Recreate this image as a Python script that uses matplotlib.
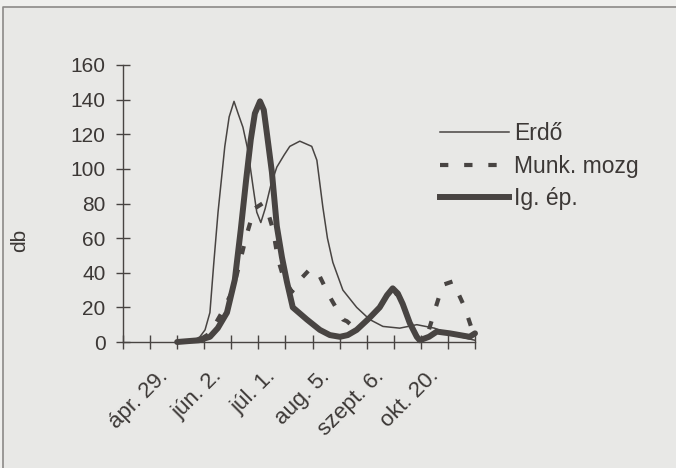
import matplotlib
matplotlib.use("Agg")
import matplotlib.pyplot as plt
from matplotlib.lines import Line2D
from matplotlib.patches import Rectangle
from matplotlib.transforms import ScaledTranslation

plt.rcParams['font.family'] = ['Liberation Sans', 'DejaVu Sans']

# values (x = sampling index, 0..13)
erdo_x = [2.0, 2.5, 2.84, 3.03, 3.21, 3.35, 3.51, 3.76, 3.92, 4.1, 4.25, 4.43, 4.61, 4.8, 4.94,
          5.09, 5.25, 5.45, 5.68, 5.95, 6.16, 6.53, 6.97, 7.16, 7.38, 7.55, 7.75, 8.12, 8.63,
          9.11, 9.6, 10.22, 10.85, 11.5, 12.18, 13.0]
erdo_y = [0, 0, 3, 7, 17, 45, 75, 113, 130, 139, 132, 124, 111, 90, 75,
          69, 77, 90, 101, 108, 113, 116, 113, 105, 78, 60, 46, 30, 20,
          13, 9, 8, 10, 8, 4, 1]

munk_x = [2.0, 2.8, 3.21, 3.65, 4.06, 4.3, 4.55, 4.85, 5.15, 5.35, 5.54, 5.72, 5.95, 6.24,
          6.6, 6.9, 7.2, 7.64, 8.12, 8.27, 8.63, 9.11, 9.48, 9.96, 10.33, 10.59, 10.85,
          11.22, 11.51, 11.81, 12.18, 12.62, 13.0]
munk_y = [0, 1, 5, 17, 30, 45, 61, 77, 80, 75, 65, 48, 36, 29,
          37, 42, 40, 26, 13, 12, 7, 14, 20, 31, 22, 11, 3,
          3, 18, 33, 35, 20, 2]

ig_x = [2.0, 2.8, 3.21, 3.5, 3.84, 4.13, 4.35, 4.55, 4.72, 4.87, 5.06, 5.2, 5.31, 5.5, 5.68,
        5.87, 6.05, 6.27, 6.79, 7.27, 7.64, 8.01, 8.3, 8.63, 9.11, 9.48, 9.75, 9.96, 10.15,
        10.33, 10.59, 10.85, 10.96, 11.3, 11.59, 12.07, 12.8, 13.0]
ig_y = [0, 1, 3, 8, 17, 36, 65, 94, 117, 132, 139, 134, 121, 98, 67,
        49, 35, 20, 13, 7, 4, 3, 4, 7, 14, 20, 27, 31, 28,
        22, 11, 3, 1, 3, 6, 5, 3, 5]

tick_pos = list(range(14))
date_labels = {2: 'ápr. 29.', 4: 'jún. 2.', 6: 'júl. 1.', 8: 'aug. 5.', 10: 'szept. 6.', 12: 'okt. 20.'}
series_names = ['Erdő', 'Munk. mozg', 'Ig. ép.']

paper = '#e8e8e6'
ink = '#484442'
text_col = '#3c3836'

fig = plt.figure(figsize=(6.76, 4.68), dpi=100, facecolor=paper)
# page frame of the scan
fig.add_artist(Rectangle((0, 1 - 7 / 468), 1, 7 / 468, transform=fig.transFigure,
                         facecolor='#efefed', edgecolor='none'))
fig.add_artist(Rectangle((0, 0), 3 / 676, 1, transform=fig.transFigure,
                         facecolor='#efefed', edgecolor='none'))
fig.add_artist(Line2D([3 / 676, 3 / 676, 1], [0, 1 - 7 / 468, 1 - 7 / 468],
                      transform=fig.transFigure, color='#8c8a88', lw=1.2))

ax = fig.add_axes([123 / 676, 1 - 342 / 468, (475 - 123) / 676, (342 - 65) / 468])
ax.set_facecolor('none')

ax.plot(erdo_x, erdo_y, color=ink, lw=1.1, clip_on=False)
ax.plot(munk_x, munk_y, color=ink, lw=3.0, dashes=(2, 3.8), clip_on=False)
ax.plot(ig_x, ig_y, color=ink, lw=4.3, solid_capstyle='round', clip_on=False)

ax.set_xlim(0, 13)
ax.set_ylim(0, 160)
ax.set_yticks(range(0, 161, 20))
ax.set_xticks(tick_pos)
ax.set_xticklabels([date_labels.get(i, '') for i in tick_pos], rotation=45,
                   ha='right', rotation_mode='anchor', fontsize=16)

for s in ['top', 'right']:
    ax.spines[s].set_visible(False)
for s in ['left', 'bottom']:
    ax.spines[s].set_color(ink)
    ax.spines[s].set_linewidth(1.0)
ax.tick_params(direction='inout', length=10, width=1.0, color=ink, labelcolor=text_col)
ax.tick_params(axis='y', pad=7.5, labelsize=15)
ax.tick_params(axis='x', pad=2)

# push the slanted date labels down and left, as in the scan
shift = ScaledTranslation(-20 / 100, -14 / 100, fig.dpi_scale_trans)
for lab in ax.get_xticklabels():
    lab.set_transform(lab.get_transform() + shift)

fig.text(20 / 676, 1 - 240 / 468, 'db', rotation=90, ha='center', va='center',
         fontsize=15, color=text_col)

handles = [Line2D([], [], color=ink, lw=1.1),
           Line2D([], [], color=ink, lw=3.0, dashes=(2, 3.8)),
           Line2D([], [], color=ink, lw=4.3)]
leg = fig.legend(handles, series_names, loc='upper left', bbox_to_anchor=(440 / 676, 1 - 122 / 468),
                 frameon=False, fontsize=16.5, handlelength=3.0, handletextpad=0.25,
                 labelspacing=0.42, borderpad=0, borderaxespad=0)
for t in leg.get_texts():
    t.set_color(text_col)

fig.savefig('out.png', dpi=100, facecolor=paper)
